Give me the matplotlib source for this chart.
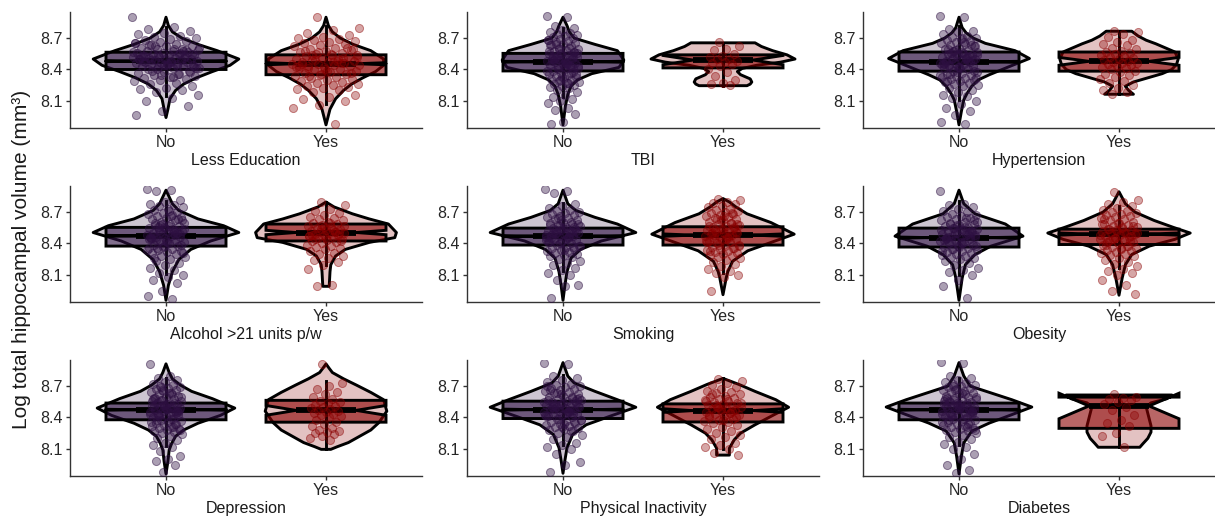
import numpy as np
import matplotlib.pyplot as plt
from matplotlib.patches import Polygon
from matplotlib.colors import to_rgba

plt.rcParams['font.family'] = ['Liberation Sans', 'DejaVu Sans']

# ---- data ----
keys = ['edu', 'tbi', 'htn', 'alc', 'smk', 'obe', 'dep', 'pha', 'dia']
xtitles = ['Less Education', 'TBI', 'Hypertension', 'Alcohol >21 units p/w', 'Smoking',
           'Obesity', 'Depression', 'Physical Inactivity', 'Diabetes']
groups = ['No', 'Yes']
jitter_w = [0.21, 0.10, 0.12, 0.12, 0.11, 0.12, 0.10, 0.12, 0.11]

# box stats per panel: [No, Yes]
box_q1 = [[8.40, 8.35], [8.386, 8.415], [8.384, 8.384], [8.375, 8.424], [8.385, 8.385],
          [8.366, 8.39], [8.378, 8.355], [8.39, 8.357], [8.378, 8.296]]
box_med = [[8.48, 8.455], [8.474, 8.49], [8.473, 8.478], [8.473, 8.505], [8.47, 8.48],
           [8.456, 8.49], [8.474, 8.468], [8.475, 8.466], [8.474, 8.51]]
box_q3 = [[8.565, 8.54], [8.554, 8.54], [8.567, 8.567], [8.554, 8.586], [8.547, 8.56],
          [8.547, 8.537], [8.538, 8.564], [8.556, 8.53], [8.538, 8.595]]
whisk_lo = [[8.15, 8.07], [8.14, 8.245], [8.11, 8.163], [8.11, 8.19], [8.14, 8.12],
            [8.10, 8.17], [8.13, 8.095], [8.14, 8.10], [8.14, 8.115]]
whisk_hi = [[8.81, 8.82], [8.80, 8.655], [8.82, 8.766], [8.81, 8.80], [8.79, 8.82],
            [8.81, 8.76], [8.78, 8.75], [8.81, 8.774], [8.78, 8.615]]
n_obs = [[2500, 900], [3300, 20], [3200, 60], [3000, 150], [2600, 600],
         [2800, 500], [3200, 50], [2900, 250], [3300, 15]]

# violin profiles: value, half width
vio_edu_no_y = [8.90, 8.82, 8.76, 8.70, 8.64, 8.58, 8.50, 8.44, 8.38, 8.32, 8.26, 8.20, 8.12, 8.02, 7.94]
vio_edu_no_w = [0, 0.015, 0.04, 0.10, 0.20, 0.32, 0.455, 0.40, 0.29, 0.19, 0.11, 0.06, 0.025, 0.012, 0]
vio_edu_yes_y = [8.90, 8.82, 8.76, 8.70, 8.64, 8.58, 8.50, 8.44, 8.38, 8.32, 8.26, 8.20, 8.12, 8.02, 7.87]
vio_edu_yes_w = [0, 0.015, 0.04, 0.09, 0.17, 0.28, 0.36, 0.36, 0.31, 0.23, 0.16, 0.11, 0.06, 0.025, 0]
vio_tbi_no_y = [8.90, 8.82, 8.76, 8.70, 8.64, 8.58, 8.49, 8.42, 8.36, 8.30, 8.24, 8.16, 8.05, 7.87]
vio_tbi_no_w = [0, 0.025, 0.04, 0.07, 0.20, 0.34, 0.38, 0.35, 0.18, 0.09, 0.05, 0.03, 0.015, 0]
vio_tbi_yes_y = [8.655, 8.62, 8.58, 8.54, 8.50, 8.47, 8.44, 8.41, 8.38, 8.35, 8.31, 8.28, 8.26, 8.245]
vio_tbi_yes_w = [0.20, 0.24, 0.31, 0.40, 0.45, 0.36, 0.21, 0.12, 0.09, 0.11, 0.17, 0.18, 0.17, 0.15]
vio_htn_no_y = [8.90, 8.80, 8.75, 8.70, 8.65, 8.58, 8.505, 8.425, 8.35, 8.30, 8.24, 8.17, 8.11, 8.0, 7.87]
vio_htn_no_w = [0, 0.02, 0.045, 0.09, 0.165, 0.35, 0.44, 0.31, 0.19, 0.12, 0.08, 0.05, 0.03, 0.015, 0]
vio_htn_yes_y = [8.766, 8.72, 8.68, 8.646, 8.60, 8.567, 8.50, 8.45, 8.40, 8.36, 8.32, 8.28, 8.24, 8.20, 8.163]
vio_htn_yes_w = [0.08, 0.12, 0.17, 0.23, 0.30, 0.35, 0.37, 0.36, 0.33, 0.27, 0.18, 0.09, 0.04, 0.06, 0.09]
vio_alc_no_y = [8.91, 8.78, 8.716, 8.635, 8.57, 8.505, 8.424, 8.343, 8.245, 8.13, 8.0, 7.856]
vio_alc_no_w = [0, 0.04, 0.08, 0.20, 0.36, 0.455, 0.28, 0.155, 0.08, 0.04, 0.015, 0]
vio_alc_yes_y = [8.797, 8.75, 8.684, 8.635, 8.586, 8.505, 8.456, 8.41, 8.343, 8.28, 8.197, 8.13, 7.99]
vio_alc_yes_w = [0, 0.05, 0.165, 0.27, 0.39, 0.44, 0.43, 0.27, 0.12, 0.06, 0.03, 0.025, 0.02]
vio_smk_no_y = [8.91, 8.78, 8.716, 8.65, 8.586, 8.505, 8.424, 8.343, 8.26, 8.13, 8.0, 7.856]
vio_smk_no_w = [0, 0.03, 0.08, 0.20, 0.34, 0.455, 0.24, 0.11, 0.05, 0.025, 0.012, 0]
vio_smk_yes_y = [8.83, 8.797, 8.75, 8.684, 8.60, 8.489, 8.41, 8.33, 8.23, 8.13, 8.07, 7.91]
vio_smk_yes_w = [0, 0.04, 0.08, 0.15, 0.30, 0.445, 0.30, 0.155, 0.06, 0.03, 0.02, 0]
vio_obe_no_y = [8.91, 8.78, 8.684, 8.586, 8.47, 8.375, 8.294, 8.197, 8.07, 7.856]
vio_obe_no_w = [0, 0.03, 0.10, 0.29, 0.40, 0.20, 0.10, 0.04, 0.02, 0]
vio_obe_yes_y = [8.895, 8.78, 8.70, 8.62, 8.554, 8.50, 8.44, 8.375, 8.294, 8.197, 8.07, 7.905]
vio_obe_yes_w = [0, 0.04, 0.10, 0.22, 0.34, 0.445, 0.35, 0.19, 0.08, 0.04, 0.02, 0]
vio_dep_no_y = [8.913, 8.83, 8.77, 8.71, 8.65, 8.58, 8.49, 8.42, 8.345, 8.28, 8.22, 8.15, 8.09, 7.98, 7.86]
vio_dep_no_w = [0, 0.02, 0.04, 0.09, 0.16, 0.29, 0.43, 0.34, 0.20, 0.11, 0.06, 0.035, 0.02, 0.012, 0]
vio_dep_yes_y = [8.913, 8.87, 8.83, 8.77, 8.71, 8.64, 8.57, 8.46, 8.35, 8.28, 8.22, 8.16, 8.12, 8.095]
vio_dep_yes_w = [0, 0.02, 0.04, 0.11, 0.19, 0.28, 0.36, 0.38, 0.33, 0.28, 0.21, 0.14, 0.07, 0.03]
vio_pha_no_y = [8.925, 8.796, 8.73, 8.65, 8.57, 8.498, 8.41, 8.33, 8.237, 8.11, 7.99, 7.866]
vio_pha_no_w = [0, 0.03, 0.07, 0.20, 0.34, 0.455, 0.29, 0.145, 0.06, 0.025, 0.012, 0]
vio_pha_yes_y = [8.774, 8.716, 8.65, 8.57, 8.498, 8.427, 8.33, 8.25, 8.186, 8.106, 8.04]
vio_pha_yes_w = [0, 0.10, 0.20, 0.33, 0.41, 0.32, 0.20, 0.11, 0.07, 0.04, 0.04]
vio_dia_no_y = [8.925, 8.797, 8.70, 8.64, 8.57, 8.50, 8.427, 8.347, 8.27, 8.157, 8.03, 7.86]
vio_dia_no_w = [0, 0.03, 0.07, 0.19, 0.33, 0.455, 0.33, 0.19, 0.08, 0.03, 0.015, 0]
vio_dia_yes_y = [8.615, 8.58, 8.54, 8.50, 8.44, 8.38, 8.32, 8.26, 8.20, 8.15, 8.115]
vio_dia_yes_w = [0.33, 0.30, 0.20, 0.17, 0.18, 0.19, 0.20, 0.20, 0.18, 0.15, 0.13]

# individual observations (jittered points)
pts_edu_no = [8.90, 8.81, 8.79, 8.77, 8.75, 8.74, 8.72, 8.71, 8.70, 8.69, 8.68, 8.67, 8.66, 8.65, 8.64,
              8.63, 8.62, 8.62, 8.61, 8.60, 8.60, 8.59, 8.58, 8.58, 8.57, 8.56, 8.56, 8.55, 8.55, 8.54,
              8.54, 8.53, 8.53, 8.52, 8.52, 8.51, 8.51, 8.50, 8.50, 8.50, 8.49, 8.49, 8.48, 8.48, 8.47,
              8.47, 8.46, 8.46, 8.45, 8.45, 8.44, 8.44, 8.43, 8.43, 8.42, 8.41, 8.41, 8.40, 8.39, 8.38,
              8.37, 8.36, 8.35, 8.34, 8.33, 8.32, 8.31, 8.30, 8.29, 8.27, 8.26, 8.24, 8.22, 8.21, 8.20,
              8.18, 8.16, 8.13, 8.10, 8.05, 8.00, 7.96,
              8.36, 8.39, 8.42, 8.45, 8.48, 8.51, 8.54, 8.57, 8.60, 8.63, 8.38, 8.44, 8.50, 8.56, 8.62,
              8.41, 8.47, 8.53, 8.59, 8.35, 8.65, 8.43, 8.49, 8.55, 8.46, 8.52, 8.58, 8.40, 8.61, 8.33]
pts_edu_yes = [8.90, 8.80, 8.78, 8.75, 8.73, 8.71, 8.70, 8.69, 8.68, 8.67, 8.66, 8.65, 8.64, 8.63, 8.62,
               8.61, 8.60, 8.59, 8.58, 8.57, 8.56, 8.55, 8.54, 8.54, 8.53, 8.52, 8.51, 8.50, 8.50, 8.49,
               8.48, 8.47, 8.47, 8.46, 8.45, 8.45, 8.44, 8.43, 8.43, 8.42, 8.41, 8.40, 8.40, 8.39, 8.38,
               8.37, 8.36, 8.35, 8.34, 8.33, 8.32, 8.31, 8.30, 8.29, 8.28, 8.27, 8.26, 8.25, 8.24, 8.23,
               8.22, 8.21, 8.20, 8.18, 8.16, 8.14, 8.12, 8.10, 8.06, 8.03, 7.88,
               8.34, 8.37, 8.40, 8.43, 8.46, 8.49, 8.52, 8.55, 8.58, 8.61, 8.36, 8.42, 8.48, 8.54, 8.60,
               8.39, 8.45, 8.51, 8.57, 8.44, 8.47, 8.41]
pts_tbi_no = [8.91, 8.90, 8.82, 8.80, 8.78, 8.76, 8.75, 8.74, 8.73, 8.72, 8.71, 8.70, 8.69, 8.68, 8.67,
              8.66, 8.65, 8.64, 8.63, 8.62, 8.61, 8.60, 8.59, 8.58, 8.57, 8.56, 8.55, 8.54, 8.53, 8.52,
              8.51, 8.50, 8.50, 8.49, 8.48, 8.47, 8.47, 8.46, 8.45, 8.44, 8.43, 8.42, 8.41, 8.40, 8.39,
              8.38, 8.37, 8.36, 8.35, 8.34, 8.33, 8.32, 8.31, 8.30, 8.29, 8.28, 8.27, 8.26, 8.25, 8.24,
              8.23, 8.22, 8.20, 8.18, 8.16, 8.14, 8.12, 8.10, 8.08, 8.03, 8.01, 7.97, 7.90, 7.88,
              8.37, 8.40, 8.43, 8.46, 8.49, 8.52, 8.55, 8.58, 8.61, 8.64, 8.36, 8.42, 8.48, 8.54, 8.60,
              8.39, 8.45, 8.51, 8.57, 8.33, 8.63, 8.44, 8.50, 8.56, 8.47, 8.53, 8.41, 8.30, 8.68, 8.27]
pts_tbi_yes = [8.66, 8.62, 8.60, 8.59, 8.55, 8.53, 8.52, 8.50, 8.50, 8.48, 8.47, 8.46, 8.45, 8.43,
               8.40, 8.38, 8.34, 8.30, 8.27, 8.26, 8.25]
pts_htn_no = [8.91, 8.90, 8.79, 8.77, 8.76, 8.74, 8.72, 8.71, 8.70, 8.69, 8.68, 8.67, 8.66, 8.65, 8.64,
              8.63, 8.62, 8.61, 8.60, 8.59, 8.58, 8.57, 8.56, 8.55, 8.54, 8.53, 8.52, 8.51, 8.50, 8.50,
              8.49, 8.48, 8.47, 8.46, 8.46, 8.45, 8.44, 8.43, 8.42, 8.41, 8.40, 8.39, 8.38, 8.37, 8.36,
              8.35, 8.34, 8.33, 8.32, 8.31, 8.30, 8.29, 8.28, 8.27, 8.26, 8.25, 8.24, 8.22, 8.20, 8.18,
              8.16, 8.15, 8.13, 8.10, 8.07, 8.03, 8.00, 7.96, 7.90, 7.88,
              8.36, 8.39, 8.42, 8.45, 8.48, 8.51, 8.54, 8.57, 8.60, 8.63, 8.38, 8.44, 8.50, 8.56, 8.62,
              8.41, 8.47, 8.53, 8.59, 8.35, 8.66, 8.43, 8.49, 8.55, 8.46, 8.52, 8.58, 8.32, 8.70, 8.29]
pts_htn_yes = [8.77, 8.76, 8.74, 8.71, 8.68, 8.66, 8.64, 8.63, 8.61, 8.60, 8.58, 8.57, 8.56, 8.55, 8.54,
               8.53, 8.52, 8.51, 8.50, 8.49, 8.48, 8.47, 8.46, 8.46, 8.45, 8.44, 8.43, 8.42, 8.41, 8.40,
               8.39, 8.38, 8.36, 8.35, 8.33, 8.31, 8.29, 8.27, 8.25, 8.22, 8.20, 8.18, 8.17]
pts_alc_no = [8.92, 8.91, 8.90, 8.82, 8.80, 8.78, 8.77, 8.76, 8.75, 8.73, 8.72, 8.70, 8.69, 8.68, 8.67,
              8.66, 8.65, 8.64, 8.63, 8.62, 8.61, 8.60, 8.59, 8.58, 8.57, 8.56, 8.55, 8.54, 8.53, 8.52,
              8.51, 8.50, 8.50, 8.49, 8.48, 8.47, 8.46, 8.46, 8.45, 8.44, 8.43, 8.42, 8.41, 8.40, 8.39,
              8.38, 8.37, 8.36, 8.35, 8.34, 8.33, 8.32, 8.31, 8.30, 8.28, 8.27, 8.25, 8.23, 8.21, 8.19,
              8.17, 8.15, 8.12, 8.10, 8.08, 8.05, 8.02, 7.95, 7.90, 7.87,
              8.36, 8.39, 8.42, 8.45, 8.48, 8.51, 8.54, 8.57, 8.60, 8.63, 8.38, 8.44, 8.50, 8.56, 8.62,
              8.41, 8.47, 8.53, 8.59, 8.34, 8.66, 8.43, 8.49, 8.55, 8.46, 8.52, 8.58, 8.31, 8.71, 8.26]
pts_alc_yes = [8.80, 8.77, 8.73, 8.71, 8.69, 8.67, 8.65, 8.64, 8.63, 8.62, 8.61, 8.60, 8.59, 8.58, 8.57,
               8.56, 8.55, 8.54, 8.53, 8.52, 8.51, 8.51, 8.50, 8.50, 8.49, 8.48, 8.48, 8.47, 8.46, 8.45,
               8.44, 8.43, 8.42, 8.41, 8.40, 8.39, 8.38, 8.37, 8.36, 8.35, 8.33, 8.31, 8.30, 8.28, 8.26,
               8.24, 8.22, 8.19, 8.16, 8.00, 7.99,
               8.42, 8.45, 8.48, 8.51, 8.54, 8.57, 8.60, 8.44, 8.50, 8.56, 8.47, 8.53]
pts_smk_no = [8.92, 8.90, 8.88, 8.78, 8.76, 8.74, 8.72, 8.71, 8.70, 8.69, 8.68, 8.67, 8.66, 8.65, 8.64,
              8.63, 8.62, 8.61, 8.60, 8.59, 8.58, 8.57, 8.56, 8.55, 8.54, 8.53, 8.52, 8.51, 8.50, 8.50,
              8.49, 8.48, 8.47, 8.47, 8.46, 8.45, 8.44, 8.43, 8.42, 8.41, 8.40, 8.39, 8.38, 8.37, 8.36,
              8.35, 8.34, 8.33, 8.32, 8.31, 8.30, 8.29, 8.28, 8.27, 8.25, 8.23, 8.21, 8.19, 8.17, 8.15,
              8.12, 8.10, 8.05, 8.00, 7.99, 7.88,
              8.37, 8.40, 8.43, 8.46, 8.49, 8.52, 8.55, 8.58, 8.61, 8.64, 8.38, 8.44, 8.50, 8.56, 8.62,
              8.41, 8.47, 8.53, 8.59, 8.34, 8.45, 8.51, 8.57, 8.48, 8.54]
pts_smk_yes = [8.83, 8.82, 8.80, 8.79, 8.78, 8.76, 8.75, 8.73, 8.72, 8.71, 8.70, 8.69, 8.68, 8.67, 8.66,
               8.65, 8.64, 8.63, 8.62, 8.61, 8.60, 8.59, 8.58, 8.57, 8.56, 8.55, 8.54, 8.53, 8.52, 8.51,
               8.50, 8.50, 8.49, 8.48, 8.47, 8.47, 8.46, 8.45, 8.44, 8.43, 8.42, 8.41, 8.40, 8.39, 8.38,
               8.37, 8.36, 8.35, 8.34, 8.33, 8.32, 8.31, 8.30, 8.29, 8.28, 8.27, 8.26, 8.24, 8.22, 8.20,
               8.18, 8.16, 8.14, 8.12, 8.10, 8.08, 7.95,
               8.36, 8.39, 8.42, 8.45, 8.48, 8.51, 8.54, 8.57, 8.60, 8.63, 8.38, 8.44, 8.50, 8.56, 8.62,
               8.41, 8.47, 8.53, 8.59, 8.66, 8.33, 8.69]
pts_obe_no = [8.90, 8.78, 8.77, 8.75, 8.73, 8.71, 8.70, 8.68, 8.67, 8.66, 8.65, 8.64, 8.63, 8.62, 8.61,
              8.60, 8.59, 8.58, 8.57, 8.56, 8.55, 8.54, 8.53, 8.52, 8.51, 8.50, 8.49, 8.48, 8.47, 8.46,
              8.46, 8.45, 8.44, 8.43, 8.42, 8.41, 8.40, 8.39, 8.38, 8.37, 8.36, 8.35, 8.34, 8.33, 8.32,
              8.31, 8.30, 8.29, 8.28, 8.27, 8.26, 8.25, 8.23, 8.21, 8.19, 8.17, 8.15, 8.13, 8.10, 8.05,
              7.99, 7.88,
              8.35, 8.38, 8.41, 8.44, 8.47, 8.50, 8.53, 8.56, 8.59, 8.62, 8.37, 8.43, 8.49, 8.55, 8.61,
              8.40, 8.46, 8.52, 8.58, 8.33, 8.64, 8.42, 8.48, 8.54, 8.45, 8.51]
pts_obe_yes = [8.89, 8.82, 8.80, 8.78, 8.76, 8.74, 8.72, 8.71, 8.70, 8.69, 8.68, 8.67, 8.66, 8.65, 8.64,
               8.63, 8.62, 8.61, 8.60, 8.59, 8.58, 8.57, 8.56, 8.55, 8.54, 8.53, 8.52, 8.51, 8.50, 8.50,
               8.49, 8.48, 8.47, 8.46, 8.45, 8.44, 8.43, 8.42, 8.41, 8.40, 8.39, 8.38, 8.37, 8.36, 8.35,
               8.34, 8.33, 8.32, 8.31, 8.30, 8.29, 8.28, 8.26, 8.24, 8.22, 8.20, 8.18, 8.16, 8.14, 8.12,
               8.10, 8.05, 8.00, 7.95, 7.92,
               8.36, 8.39, 8.42, 8.45, 8.48, 8.51, 8.54, 8.57, 8.60, 8.63, 8.38, 8.44, 8.50, 8.56, 8.41,
               8.47, 8.53, 8.59]
pts_dep_no = [8.91, 8.80, 8.78, 8.76, 8.74, 8.72, 8.71, 8.70, 8.69, 8.68, 8.67, 8.66, 8.65, 8.64, 8.63,
              8.62, 8.61, 8.60, 8.59, 8.58, 8.57, 8.56, 8.55, 8.54, 8.53, 8.52, 8.51, 8.50, 8.50, 8.49,
              8.48, 8.47, 8.46, 8.46, 8.45, 8.44, 8.43, 8.42, 8.41, 8.40, 8.39, 8.38, 8.37, 8.36, 8.35,
              8.34, 8.33, 8.32, 8.31, 8.30, 8.29, 8.28, 8.27, 8.26, 8.25, 8.24, 8.22, 8.20, 8.18, 8.16,
              8.14, 8.12, 8.08, 8.03, 8.00, 7.98, 7.95, 7.88,
              8.36, 8.39, 8.42, 8.45, 8.48, 8.51, 8.54, 8.57, 8.60, 8.63, 8.38, 8.44, 8.50, 8.56, 8.62,
              8.41, 8.47, 8.53, 8.59, 8.34, 8.66, 8.43, 8.49, 8.55, 8.46, 8.52, 8.58, 8.31, 8.69, 8.28]
pts_dep_yes = [8.91, 8.73, 8.70, 8.67, 8.64, 8.62, 8.60, 8.58, 8.56, 8.55, 8.54, 8.52, 8.51, 8.50, 8.49,
               8.48, 8.47, 8.46, 8.45, 8.44, 8.43, 8.42, 8.41, 8.40, 8.38, 8.36, 8.34, 8.32, 8.30, 8.28,
               8.27, 8.26, 8.25, 8.24, 8.22, 8.20, 8.18]
pts_pha_no = [8.92, 8.91, 8.80, 8.78, 8.76, 8.74, 8.72, 8.71, 8.70, 8.69, 8.68, 8.67, 8.66, 8.65, 8.64,
              8.63, 8.62, 8.61, 8.60, 8.59, 8.58, 8.57, 8.56, 8.55, 8.54, 8.53, 8.52, 8.51, 8.50, 8.50,
              8.49, 8.48, 8.47, 8.46, 8.45, 8.45, 8.44, 8.43, 8.42, 8.41, 8.40, 8.39, 8.38, 8.37, 8.36,
              8.35, 8.34, 8.33, 8.32, 8.31, 8.30, 8.29, 8.28, 8.27, 8.25, 8.23, 8.21, 8.19, 8.16, 8.14,
              8.12, 8.10, 8.05, 7.97, 7.95, 7.88,
              8.36, 8.39, 8.42, 8.45, 8.48, 8.51, 8.54, 8.57, 8.60, 8.63, 8.38, 8.44, 8.50, 8.56, 8.62,
              8.41, 8.47, 8.53, 8.59, 8.34, 8.66, 8.43, 8.49, 8.55, 8.46, 8.52, 8.58, 8.31, 8.70, 8.27]
pts_pha_yes = [8.77, 8.75, 8.73, 8.71, 8.69, 8.67, 8.65, 8.64, 8.63, 8.62, 8.61, 8.60, 8.59, 8.58, 8.57,
               8.56, 8.55, 8.54, 8.53, 8.52, 8.51, 8.50, 8.50, 8.49, 8.48, 8.47, 8.46, 8.45, 8.44, 8.43,
               8.42, 8.41, 8.40, 8.39, 8.38, 8.37, 8.36, 8.35, 8.33, 8.31, 8.29, 8.27, 8.25, 8.23, 8.21,
               8.19, 8.16, 8.14, 8.12, 8.10, 8.06, 8.04,
               8.38, 8.42, 8.46, 8.50, 8.54, 8.58, 8.62, 8.40, 8.48, 8.56, 8.44, 8.52]
pts_dia_no = [8.93, 8.92, 8.80, 8.78, 8.76, 8.74, 8.73, 8.72, 8.71, 8.70, 8.69, 8.68, 8.67, 8.66, 8.65,
              8.64, 8.63, 8.62, 8.61, 8.60, 8.59, 8.58, 8.57, 8.56, 8.55, 8.54, 8.53, 8.52, 8.51, 8.50,
              8.50, 8.49, 8.48, 8.47, 8.46, 8.45, 8.44, 8.43, 8.42, 8.41, 8.40, 8.39, 8.38, 8.37, 8.36,
              8.35, 8.34, 8.33, 8.32, 8.31, 8.30, 8.29, 8.28, 8.27, 8.26, 8.25, 8.23, 8.21, 8.19, 8.17,
              8.15, 8.12, 8.10, 8.05, 8.00, 7.95, 7.90, 7.87,
              8.36, 8.39, 8.42, 8.45, 8.48, 8.51, 8.54, 8.57, 8.60, 8.63, 8.38, 8.44, 8.50, 8.56, 8.62,
              8.41, 8.47, 8.53, 8.59, 8.34, 8.66, 8.43, 8.49, 8.55, 8.46, 8.52, 8.58, 8.31, 8.70, 8.28]
pts_dia_yes = [8.62, 8.60, 8.59, 8.58, 8.57, 8.55, 8.53, 8.50, 8.47, 8.42, 8.38, 8.35, 8.32, 8.25,
               8.22, 8.12]

col_no = '#2e1042'
col_yes = '#8b0000'
colors = [col_no, col_yes]
pt_alpha = [0.4, 0.35]

# ---- figure ----
W, H = 1215, 518
fig = plt.figure(figsize=(W / 100, H / 100), dpi=100)

col_left = [70, 467, 863]
row_bottom = [128, 302, 476]
ax_w, ax_h = 352, 116

vio = {k: [(globals()[f'vio_{k}_no_y'], globals()[f'vio_{k}_no_w']),
           (globals()[f'vio_{k}_yes_y'], globals()[f'vio_{k}_yes_w'])] for k in keys}
pts = {k: [globals()[f'pts_{k}_no'], globals()[f'pts_{k}_yes']] for k in keys}

lw = 2.1
hw = 0.375

for p, k in enumerate(keys):
	r, c = divmod(p, 3)
	ax = fig.add_axes([col_left[c] / W, (H - row_bottom[r]) / H, ax_w / W, ax_h / H])
	for g in range(2):
		x = g + 1
		col = colors[g]
		# violin
		ys, ws = np.array(vio[k][g][0]), np.array(vio[k][g][1])
		verts = list(zip(x + ws, ys)) + list(zip((x - ws)[::-1], ys[::-1]))
		ax.add_patch(Polygon(verts, closed=True, facecolor=to_rgba(col, 0.24),
		                     edgecolor='black', lw=lw, joinstyle='round', zorder=1))
		# notched box
		q1, med, q3 = box_q1[p][g], box_med[p][g], box_q3[p][g]
		ci = 1.58 * (q3 - q1) / np.sqrt(n_obs[p][g])
		xmin, xmax = x - hw, x + hw
		ind = hw * 0.5
		bverts = [(xmin, q3), (xmin, med + ci), (xmin + ind, med), (xmin, med - ci), (xmin, q1),
		          (xmax, q1), (xmax, med - ci), (xmax - ind, med), (xmax, med + ci), (xmax, q3)]
		ax.add_patch(Polygon(bverts, closed=True, facecolor=to_rgba(col, 0.6),
		                     edgecolor='black', lw=lw, joinstyle='miter', zorder=2))
		ax.plot([x, x], [whisk_lo[p][g], whisk_hi[p][g]], color='black', lw=lw, zorder=3)
		ax.plot([xmin + ind, xmax - ind], [med, med], color='black', lw=2 * lw,
		        solid_capstyle='butt', zorder=3)
		# points
		vals = np.array(pts[k][g])
		idx = np.arange(len(vals))
		offs = jitter_w[p] * (2 * ((idx * 0.6180339887 + 0.37 * g) % 1) - 1)
		ax.scatter(x + offs, vals, s=34, facecolor=to_rgba(col, pt_alpha[g]),
		           edgecolor=to_rgba(col, pt_alpha[g] + 0.1), lw=0.7, zorder=4)

	ax.set_xlim(0.4, 2.6)
	ax.set_ylim(7.84, 8.95)
	ax.set_xticks([1, 2])
	ax.set_xticklabels(groups)
	ax.set_yticks([8.1, 8.4, 8.7])
	ax.set_yticklabels(['8.1', '8.4', '8.7'])
	for s in ['top', 'right']:
		ax.spines[s].set_visible(False)
	for s in ['left', 'bottom']:
		ax.spines[s].set_linewidth(1.0)
		ax.spines[s].set_color('#333333')
	ax.tick_params(length=3, width=1, color='#333333', labelsize=11.5, labelcolor='#262626', pad=2)
	ax.set_xlabel(xtitles[p], fontsize=11.5, color='#1a1a1a', labelpad=2)

fig.text(0.018, 0.5, 'Log total hippocampal volume (mm³)', rotation=90, ha='center', va='center',
         fontsize=15, color='#1a1a1a')

plt.savefig('out.png', dpi=100)
